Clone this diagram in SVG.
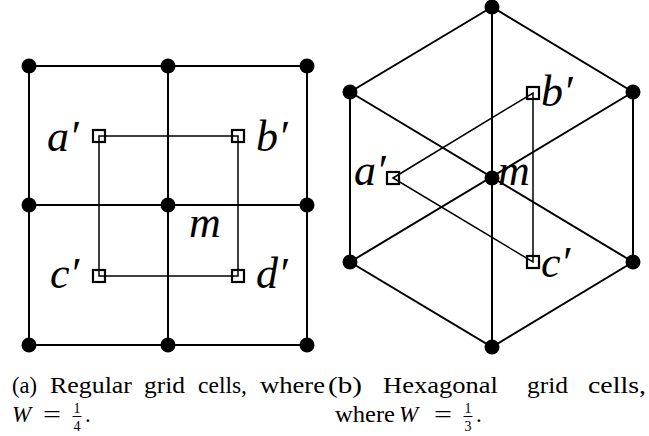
<svg xmlns="http://www.w3.org/2000/svg" width="649" height="436" viewBox="0 0 649 436">
<style>
.g{stroke:#000;stroke-width:2;fill:none;stroke-linecap:round}
.t{stroke:#000;stroke-width:1.5;fill:none}
.dot{fill:#000}
.sq{fill:none;stroke:#000;stroke-width:2.2}
</style>
<defs>
<circle id="d" r="7.5" class="dot"/>
<rect id="s" x="-6" y="-6" width="12" height="12" class="sq"/>
</defs>
<g id="connectors">
<path class="g" d="M29 66H307M29 205H307M29 345H307M29 66V345M168 66V345M307 66V345"/>
<path class="t" d="M99 136H238V276H99Z"/>
<path class="g" d="M492 7L350 92L350 262L492 347L633 262L633 92Z"/>
<path class="g" d="M492 7V347M350 92L633 262M633 92L350 262"/>
<path class="t" d="M393 178L533 93V262Z"/>
</g>
<g id="left-grid-nodes">
<use href="#d" x="29" y="66"/><use href="#d" x="168" y="66"/><use href="#d" x="307" y="66"/>
<use href="#d" x="29" y="205"/><use href="#d" x="168" y="205"/><use href="#d" x="307" y="205"/>
<use href="#d" x="29" y="345"/><use href="#d" x="168" y="345"/><use href="#d" x="307" y="345"/>
</g>
<g font-family="Liberation Serif, serif" font-style="italic" font-size="44" fill="#000">
<g id="node-m-left"><text x="189" y="237">m</text></g>
<g id="node-a-left"><use href="#s" x="99" y="136"/><text x="47" y="151">a′</text></g>
<g id="node-b-left"><use href="#s" x="238" y="136"/><text x="256" y="151">b′</text></g>
<g id="node-c-left"><use href="#s" x="99" y="276"/><text x="50" y="288">c′</text></g>
<g id="node-d-left"><use href="#s" x="238" y="276"/><text x="256" y="288">d′</text></g>
</g>
<g id="hex-nodes">
<use href="#d" x="492" y="7"/><use href="#d" x="350" y="92"/><use href="#d" x="633" y="92"/>
<use href="#d" x="350" y="262"/><use href="#d" x="633" y="262"/><use href="#d" x="492" y="347"/>
</g>
<g font-family="Liberation Serif, serif" font-style="italic" font-size="44" fill="#000">
<g id="node-m-right"><use href="#d" x="492" y="178"/><text x="498" y="185">m</text></g>
<g id="node-a-right"><use href="#s" x="393" y="178"/><text x="354" y="185">a′</text></g>
<g id="node-b-right"><use href="#s" x="533" y="93"/><text x="541" y="106">b′</text></g>
<g id="node-c-right"><use href="#s" x="533" y="262"/><text x="541" y="277">c′</text></g>
</g>
<g id="caption-a" font-family="Liberation Serif, serif" font-size="23" fill="#000">
<text y="393"><tspan x="12" textLength="25" lengthAdjust="spacingAndGlyphs">(a)</tspan><tspan x="50" textLength="82" lengthAdjust="spacingAndGlyphs">Regular</tspan><tspan x="144" textLength="41" lengthAdjust="spacingAndGlyphs">grid</tspan><tspan x="198" textLength="49" lengthAdjust="spacingAndGlyphs">cells,</tspan><tspan x="260" textLength="65" lengthAdjust="spacingAndGlyphs">where</tspan></text>
<text x="12" y="422" font-style="italic">W</text>
<text y="422"><tspan x="43" textLength="18" lengthAdjust="spacingAndGlyphs">=</tspan></text>
<text x="77" y="413" font-size="14" text-anchor="middle">1</text>
<line x1="72.5" y1="416.5" x2="81.5" y2="416.5" stroke="#000" stroke-width="1"/>
<text x="77" y="431" font-size="14" text-anchor="middle">4</text>
<text x="85" y="422">.</text>
</g>
<g id="caption-b" font-family="Liberation Serif, serif" font-size="23" fill="#000">
<text y="393"><tspan x="328" textLength="34" lengthAdjust="spacingAndGlyphs">(b)</tspan><tspan x="383" textLength="115" lengthAdjust="spacingAndGlyphs">Hexagonal</tspan><tspan x="527" textLength="41" lengthAdjust="spacingAndGlyphs">grid</tspan><tspan x="588" textLength="58" lengthAdjust="spacingAndGlyphs">cells,</tspan></text>
<text y="422"><tspan x="335" textLength="60" lengthAdjust="spacingAndGlyphs">where</tspan></text>
<text x="399" y="422" font-style="italic">W</text>
<text y="422"><tspan x="434" textLength="18" lengthAdjust="spacingAndGlyphs">=</tspan></text>
<text x="468" y="413" font-size="14" text-anchor="middle">1</text>
<line x1="463.5" y1="416.5" x2="472.5" y2="416.5" stroke="#000" stroke-width="1"/>
<text x="468" y="431" font-size="14" text-anchor="middle">3</text>
<text x="476" y="422">.</text>
</g>
</svg>
